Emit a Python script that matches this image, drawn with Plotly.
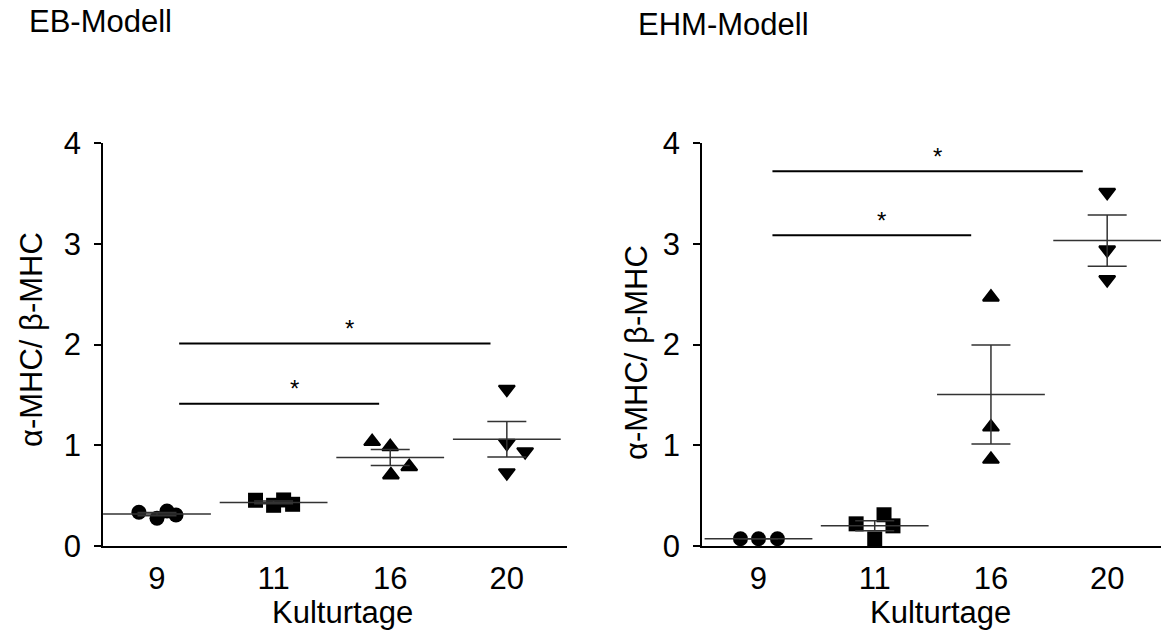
import plotly.graph_objects as go
import numpy as np

# ---------------- data ----------------
days = ["9", "11", "16", "20"]

# EB-Modell (left panel), individual values per culture day
eb_d9 = [0.335, 0.275, 0.348, 0.308]
eb_d11 = [0.454, 0.404, 0.457, 0.414]
eb_d16 = [1.036, 0.986, 0.705, 0.787]
eb_d20 = [1.556, 1.020, 0.936, 0.728]

# EHM-Modell (right panel)
ehm_d9 = [0.072, 0.072, 0.072]
ehm_d11 = [0.22, 0.07, 0.31, 0.20]
ehm_d16 = [2.47, 1.18, 0.86]
ehm_d20 = [3.51, 2.94, 2.645]

# significance brackets: (from group, to group, level)
eb_sig_from = [0, 0]
eb_sig_to = [2, 3]
eb_sig_level = [1.413, 2.01]
ehm_sig_from = [0, 0]
ehm_sig_to = [2, 3]
ehm_sig_level = [3.085, 3.72]

y_title = "α-MHC/ β-MHC"
x_title = "Kulturtage"
titles = ["EB-Modell", "EHM-Modell"]

# ---------------- styling / layout helpers ----------------
W, H = 1161, 630
FONT = "Liberation Sans, Arial, sans-serif"
symbols = ["circle", "square", "triangle-up", "triangle-down"]
sizes = [15, 15, 14, 14]
# horizontal scatter offsets of points inside a group (category units)
eb_jit = [[-0.155, 0.0, 0.086, 0.163],
          [-0.155, 0.0, 0.086, 0.163],
          [-0.155, 0.0, 0.006, 0.163],
          [0.0, 0.0, 0.157, 0.0]]
ehm_jit = [[-0.155, 0.0, 0.163],
           [-0.16, 0.0, 0.08, 0.157],
           [0.0, 0.0, 0.0],
           [0.0, 0.0, 0.0]]


def px_x(p):
    return p / W


def px_y(p):
    return 1 - p / H


fig = go.Figure()

panels = [
    dict(groups=[eb_d9, eb_d11, eb_d16, eb_d20], jit=eb_jit, xa="x", ya="y",
         sf=eb_sig_from, st=eb_sig_to, sl=eb_sig_level,
         start_off=0.19, end_off=[-0.095, -0.14], star_shift=15),
    dict(groups=[ehm_d9, ehm_d11, ehm_d16, ehm_d20], jit=ehm_jit, xa="x2", ya="y2",
         sf=ehm_sig_from, st=ehm_sig_to, sl=ehm_sig_level,
         start_off=0.12, end_off=[-0.17, -0.21], star_shift=10),
]

annotations = []
for p in panels:
    means, sems = [], []
    for gi, vals in enumerate(p["groups"]):
        xs = [gi + j for j in p["jit"][gi]]
        fig.add_trace(go.Scatter(
            x=xs, y=vals, mode="markers", xaxis=p["xa"], yaxis=p["ya"],
            marker=dict(symbol=symbols[gi], size=sizes[gi], color="black",
                        line=dict(color="black", width=2 if gi >= 2 else 0)),
            cliponaxis=False, showlegend=False, hoverinfo="skip"))
        a = np.array(vals)
        means.append(a.mean())
        sems.append(a.std(ddof=1) / np.sqrt(len(a)))
    # mean line + SEM
    fig.add_trace(go.Scatter(
        x=list(range(len(days))), y=means, mode="markers",
        xaxis=p["xa"], yaxis=p["ya"],
        marker=dict(symbol="line-ew", size=77, color="#333",
                    line=dict(color="#333", width=1.5)),
        error_y=dict(type="data", array=sems, visible=True, width=19.5,
                     thickness=1.5, color="#333"),
        cliponaxis=False, showlegend=False, hoverinfo="skip"))
    # significance brackets
    for k in range(len(p["sl"])):
        x0 = p["sf"][k] + p["start_off"]
        x1 = p["st"][k] + p["end_off"][k]
        fig.add_trace(go.Scatter(
            x=[x0, x1], y=[p["sl"][k]] * 2, mode="lines",
            xaxis=p["xa"], yaxis=p["ya"],
            line=dict(color="black", width=2),
            cliponaxis=False, showlegend=False, hoverinfo="skip"))
        annotations.append(dict(
            x=(x0 + x1) / 2, y=p["sl"][k], xref=p["xa"], yref=p["ya"],
            text="*", showarrow=False, xanchor="center", yanchor="middle",
            xshift=p["star_shift"], yshift=15,
            font=dict(family=FONT, size=24, color="black")))

# axes
ax_common = dict(showgrid=False, zeroline=False, showline=True,
                 linecolor="black", linewidth=1.5, automargin=False)
xcommon = dict(ax_common, tickvals=[0, 1, 2, 3], ticktext=days, ticks="",
               tickfont=dict(family=FONT, size=31, color="black"),
               ticklabelstandoff=4)
ycommon = dict(ax_common, range=[0, 4], tickvals=[0, 1, 2, 3, 4], ticks="outside",
               ticklen=7, tickwidth=1.5, tickcolor="black",
               tickfont=dict(family=FONT, size=31, color="black"),
               ticklabelstandoff=7)

fig.update_layout(
    template="none",
    width=W, height=H, margin=dict(l=0, r=0, t=0, b=0, pad=0, autoexpand=False),
    paper_bgcolor="white", plot_bgcolor="white", showlegend=False,
    xaxis=dict(xcommon, domain=[px_x(103), px_x(567)], range=[-0.463, 3.516], anchor="y"),
    yaxis=dict(ycommon, domain=[px_y(546), px_y(143)], anchor="x"),
    xaxis2=dict(xcommon, domain=[px_x(702), px_x(1161)], range=[-0.486, 3.463], anchor="y2"),
    yaxis2=dict(ycommon, domain=[px_y(546), px_y(143)], anchor="x2"),
)

# titles and axis titles
tfont = dict(family=FONT, size=31, color="black")
annotations += [
    dict(x=px_x(27), y=px_y(22), xref="paper", yref="paper", text=titles[0],
         showarrow=False, xanchor="left", yanchor="middle", font=tfont),
    dict(x=px_x(636), y=px_y(25), xref="paper", yref="paper", text=titles[1],
         showarrow=False, xanchor="left", yanchor="middle", font=tfont),
    dict(x=px_x(342), y=px_y(612), xref="paper", yref="paper", text=x_title,
         showarrow=False, xanchor="center", yanchor="middle", font=tfont),
    dict(x=px_x(940), y=px_y(612), xref="paper", yref="paper", text=x_title,
         showarrow=False, xanchor="center", yanchor="middle", font=tfont),
    dict(x=px_x(31), y=px_y(340), xref="paper", yref="paper", text=y_title,
         showarrow=False, xanchor="center", yanchor="middle", textangle=-90, font=tfont),
    dict(x=px_x(636), y=px_y(353), xref="paper", yref="paper", text=y_title,
         showarrow=False, xanchor="center", yanchor="middle", textangle=-90, font=tfont),
]
fig.update_layout(annotations=annotations)

fig.write_html("out.html")
